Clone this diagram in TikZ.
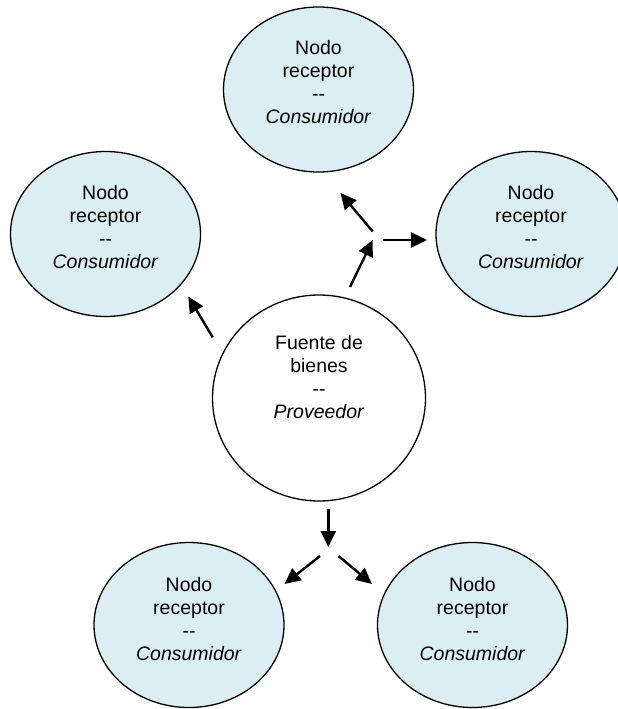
\documentclass[tikz,border=0pt]{standalone}
\usepackage{fontspec}
\setmainfont{Liberation Sans}
\usetikzlibrary{arrows.meta,shapes.geometric}
\definecolor{nodefill}{HTML}{DAEEF3}
\tikzset{
  recv/.style={ellipse,draw=black,line width=1.3pt,fill=nodefill,minimum width=190pt,minimum height=165pt,inner sep=0pt},
  prov/.style={ellipse,draw=black,line width=1.3pt,fill=white,minimum width=213pt,minimum height=206pt,inner sep=0pt},
  lbl/.style={align=center,inner sep=0pt,font=\fontsize{19.5}{23}\selectfont},
  arr/.style={line width=2.4pt,-{Triangle[length=16pt,width=15pt]}}
}
\newcommand{\dd}{-{}-}
\begin{document}
\begin{tikzpicture}[x=1pt,y=-1pt]
\useasboundingbox (0,0) rectangle (618,709);
% nodes
\node[recv] (top) at (318.5,89.5) {};
\node[recv] (left) at (105.5,234) {};
\node[recv] (right) at (531,234) {};
\node[recv] (bl) at (189,625) {};
\node[recv] (br) at (472.5,625) {};
\node[prov] (src) at (319,398) {};
% labels
\node[lbl] (ttop) at (318.5,82.5) {Nodo\\receptor\\\dd\\\textit{Consumidor}};
\node[lbl] (tleft) at (105.5,227) {Nodo\\receptor\\\dd\\\textit{Consumidor}};
\node[lbl] (tright) at (531,227) {Nodo\\receptor\\\dd\\\textit{Consumidor}};
\node[lbl] (tbl) at (189,619) {Nodo\\receptor\\\dd\\\textit{Consumidor}};
\node[lbl] (tbr) at (472.5,619) {Nodo\\receptor\\\dd\\\textit{Consumidor}};
\node[lbl] (tsrc) at (319,377.5) {Fuente de\\bienes\\\dd\\\textit{Proveedor}};
% connector points
\coordinate (l0) at (212.7,337.3);
\coordinate (l1) at (188.3,296.5);
\coordinate (u0) at (350,287);
\coordinate (u1) at (372.7,240);
\coordinate (ul0) at (372.7,231.5);
\coordinate (ul1) at (340.5,193);
\coordinate (r0) at (382.5,240);
\coordinate (r1) at (427,240);
\coordinate (d0) at (328.3,508.5);
\coordinate (d1) at (328.3,547);
\coordinate (bl0) at (320,556);
\coordinate (bl1) at (284.5,584);
\coordinate (br0) at (338.5,556);
\coordinate (br1) at (372,584);
% connectors
\draw[arr] (l0) -- (l1);
\draw[arr] (u0) -- (u1);
\draw[arr] (ul0) -- (ul1);
\draw[arr] (r0) -- (r1);
\draw[arr] (d0) -- (d1);
\draw[arr] (bl0) -- (bl1);
\draw[arr] (br0) -- (br1);
\end{tikzpicture}
\end{document}
